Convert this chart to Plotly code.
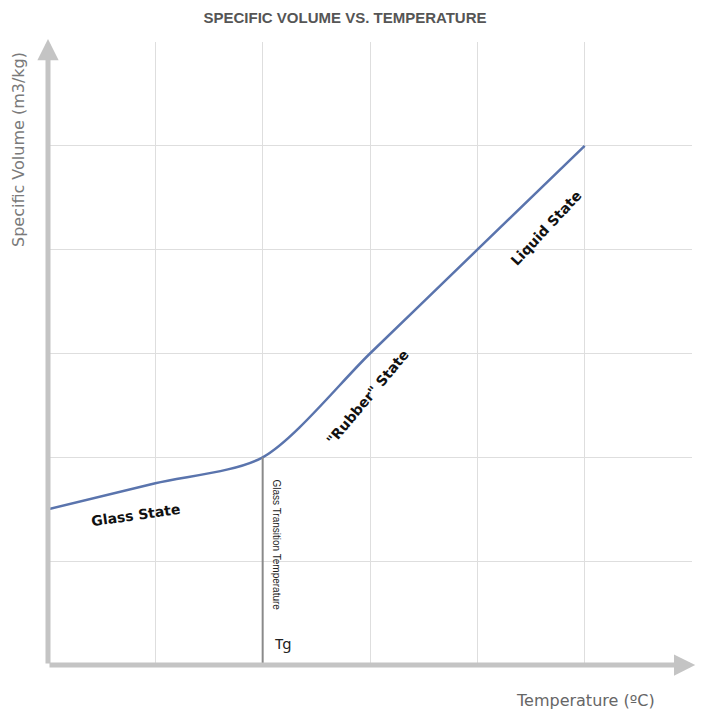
import plotly.graph_objects as go

# curve points (grid units)
temperature = [0, 1, 2, 3, 4, 5]
specific_volume = [1.5, 1.75, 2.0, 3.0, 4.0, 5.0]
tg_x = 2

state_labels = ["Glass State", "\"Rubber\" State", "Liquid State"]
label_x = [0.82, 2.98, 4.64]
label_y = [1.44, 2.58, 4.21]
label_angle = [-8, -50, -47]

GRID = "#dedede"
AXIS = "#c4c4c4"

W, H = 697, 703
L, R, T, B = 40, 13, 34, 46
pw, ph = W - L - R, H - T - B

fig = go.Figure()

fig.add_trace(go.Scatter(
    x=temperature, y=specific_volume, mode="lines",
    line=dict(color="#5a74ad", width=2.5, shape="spline", smoothing=0.8),
    hoverinfo="skip", showlegend=False,
))

# Tg marker line
fig.add_trace(go.Scatter(
    x=[tg_x, tg_x], y=[0, specific_volume[temperature.index(tg_x)]], mode="lines",
    line=dict(color="#8a8a8a", width=2), hoverinfo="skip", showlegend=False,
))

annotations = []
for txt, x, y, a in zip(state_labels, label_x, label_y, label_angle):
    annotations.append(dict(x=x, y=y, xref="x", yref="y", text=f"<b>{txt}</b>",
                            textangle=a, showarrow=False,
                            font=dict(family="DejaVu Sans", size=14, color="#111")))

annotations += [
    # axis arrows
    dict(x=6.03, y=0, ax=0, ay=0, xref="x", yref="y", axref="x", ayref="y",
         showarrow=True, arrowhead=2, arrowsize=0.85, arrowwidth=5, arrowcolor=AXIS, text=""),
    dict(x=0, y=6.03, ax=0, ay=0, xref="x", yref="y", axref="x", ayref="y",
         showarrow=True, arrowhead=2, arrowsize=0.85, arrowwidth=5, arrowcolor=AXIS, text=""),
    dict(x=2.125, y=1.16, xref="x", yref="y", text="Glass Transition Temperature",
         textangle=90, showarrow=False, font=dict(family="Liberation Sans", size=10, color="#222")),
    dict(x=2.19, y=0.21, xref="x", yref="y", text="Tg", showarrow=False,
         font=dict(family="Noto Sans", size=15, color="#222")),
    dict(x=(10 - L) / pw, y=1 + (T - 142) / ph, xref="paper", yref="paper",
         text="Specific Volume (m3/kg)", textangle=-90, showarrow=False,
         xanchor="center", yanchor="middle",
         font=dict(family="DejaVu Sans", size=16, color="#7a7a7a")),
    dict(x=(577 - L) / pw, y=-(692 - (H - B)) / ph, xref="paper", yref="paper",
         text="Temperature (ºC)", showarrow=False, xanchor="center", yanchor="middle",
         font=dict(family="DejaVu Sans", size=16, color="#666")),
]

fig.update_layout(
    width=W, height=H,
    margin=dict(l=L, r=R, t=T, b=B),
    plot_bgcolor="white", paper_bgcolor="white",
    title=dict(text="<b>SPECIFIC VOLUME VS. TEMPERATURE</b>", x=337 / W, xref="container",
               xanchor="center", y=1 - 10 / H, yanchor="middle",
               font=dict(family="Liberation Sans", size=15, color="#555")),
    annotations=annotations,
)

fig.update_xaxes(range=[0, 6], dtick=1, showgrid=True, gridcolor=GRID, gridwidth=1,
                 showticklabels=False, zeroline=False, showline=False, fixedrange=True)
fig.update_yaxes(range=[0, 6], dtick=1, showgrid=True, gridcolor=GRID, gridwidth=1,
                 showticklabels=False, zeroline=False, showline=False, fixedrange=True)

fig.write_html("out.html")
